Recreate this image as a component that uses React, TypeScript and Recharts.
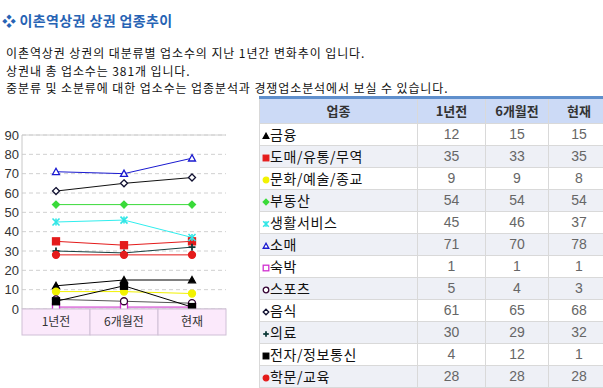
import React from "react";
import { LineChart, Line, XAxis, YAxis, CartesianGrid, ReferenceLine } from "recharts";

const periods = ["1년전", "6개월전", "현재"];
const yTicks = [0, 10, 20, 30, 40, 50, 60, 70, 80, 90];

const finance = [12, 15, 15];
const wholesale = [35, 33, 35];
const culture = [9, 9, 8];
const realEstate = [54, 54, 54];
const lifeService = [45, 46, 37];
const retail = [71, 70, 78];
const lodging = [1, 1, 1];
const sports = [5, 4, 3];
const food = [61, 65, 68];
const medical = [30, 29, 32];
const electronics = [4, 12, 1];
const education = [28, 28, 28];

type Shape = "triangle" | "square" | "circle" | "diamond" | "star" | "plus";

const series = [
  { key: "금융", values: finance, line: "#000000", mark: "#000000", shape: "triangle", hollow: false },
  { key: "도매/유통/무역", values: wholesale, line: "#e41b1b", mark: "#e41b1b", shape: "square", hollow: false },
  { key: "문화/예술/종교", values: culture, line: "#f2f200", mark: "#f2f200", shape: "circle", hollow: false },
  { key: "부동산", values: realEstate, line: "#3ada3a", mark: "#3ada3a", shape: "diamond", hollow: false },
  { key: "생활서비스", values: lifeService, line: "#30eeee", mark: "#30e6e6", shape: "star", hollow: false },
  { key: "소매", values: retail, line: "#1a1ad0", mark: "#1a1ad0", shape: "triangle", hollow: true },
  { key: "숙박", values: lodging, line: "#c828c8", mark: "#d030d0", shape: "square", hollow: true },
  { key: "스포츠", values: sports, line: "#555555", mark: "#330033", shape: "circle", hollow: true },
  { key: "음식", values: food, line: "#111111", mark: "#101030", shape: "diamond", hollow: true },
  { key: "의료", values: medical, line: "#1a4040", mark: "#0e3a3a", shape: "plus", hollow: false },
  { key: "전자/정보통신", values: electronics, line: "#000000", mark: "#000000", shape: "square", hollow: false },
  { key: "학문/교육", values: education, line: "#e41b1b", mark: "#e41b1b", shape: "circle", hollow: false },
] as { key: string; values: number[]; line: string; mark: string; shape: Shape; hollow: boolean }[];

const chartData = periods.map((p, i) => {
  const row: any = { period: p };
  series.forEach((s) => (row[s.key] = s.values[i]));
  return row;
});

function Marker({ cx, cy, shape, color, hollow, s = 3.5 }: any) {
  const fill = hollow ? "#ffffff" : color;
  const sw = 1.3;
  switch (shape) {
    case "triangle":
      return (
        <polygon
          points={`${cx},${cy - s} ${cx - s},${cy + s * 0.8} ${cx + s},${cy + s * 0.8}`}
          fill={fill}
          stroke={color}
          strokeWidth={sw}
        />
      );
    case "square":
      return <rect x={cx - s} y={cy - s} width={s * 2} height={s * 2} fill={fill} stroke={color} strokeWidth={sw} />;
    case "circle":
      return <circle cx={cx} cy={cy} r={s} fill={fill} stroke={color} strokeWidth={sw} />;
    case "diamond":
      return (
        <polygon
          points={`${cx},${cy - s} ${cx + s},${cy} ${cx},${cy + s} ${cx - s},${cy}`}
          fill={fill}
          stroke={color}
          strokeWidth={sw}
        />
      );
    case "star":
      return (
        <g stroke={color} strokeWidth={1.6}>
          <line x1={cx - s} y1={cy - s} x2={cx + s} y2={cy + s} />
          <line x1={cx - s} y1={cy + s} x2={cx + s} y2={cy - s} />
          <line x1={cx} y1={cy - s} x2={cx} y2={cy + s} />
        </g>
      );
    default:
      return (
        <g stroke={color} strokeWidth={1.8}>
          <line x1={cx - s} y1={cy} x2={cx + s} y2={cy} />
          <line x1={cx} y1={cy - s} x2={cx} y2={cy + s} />
        </g>
      );
  }
}

function PeriodTick({ x, y, payload }: any) {
  return (
    <g>
      <rect x={x - 34} y={y} width={68} height={26} fill="#fbe9fb" stroke="#cfbfd6" />
      <text
        x={x}
        y={y + 17}
        textAnchor="middle"
        fontSize={12}
        fill="#333"
        fontFamily="'Noto Sans CJK KR', sans-serif"
      >
        {payload.value}
      </text>
    </g>
  );
}

const cellBorder = "1px solid #d9d9d9";

export default function App() {
  return (
    <div
      style={{
        position: "absolute",
        left: 0,
        top: 0,
        width: 603,
        height: 388,
        overflow: "hidden",
        background: "#fff",
        fontFamily: "'Noto Sans CJK KR', sans-serif",
        color: "#222",
      }}
    >
      <div
        style={{
          position: "absolute",
          left: 2,
          top: 10,
          fontSize: 14,
          fontWeight: 700,
          color: "#2763b4",
          letterSpacing: 0.4,
          whiteSpace: "nowrap",
        }}
      >
        <span style={{ fontSize: 14, marginRight: 3 }}>❖</span>이촌역상권 상권 업종추이
      </div>
      <div
        style={{
          position: "absolute",
          left: 6,
          top: 44,
          fontSize: 12,
          lineHeight: "17.5px",
          color: "#111",
          letterSpacing: 0.9,
          whiteSpace: "nowrap",
        }}
      >
        <div>이촌역상권 상권의 대분류별 업소수의 지난 1년간 변화추이 입니다.</div>
        <div>상권내 총 업소수는 381개 입니다.</div>
        <div>중분류 및 소분류에 대한 업소수는 업종분석과 경쟁업소분석에서 보실 수 있습니다.</div>
      </div>

      <div style={{ position: "absolute", left: 0, top: 120 }}>
        <LineChart width={240} height={220} data={chartData} margin={{ top: 15, right: 14, bottom: 5, left: 0 }}>
          <CartesianGrid vertical={false} stroke="#d0d0d0" strokeDasharray="4 3" />
          <XAxis
            dataKey="period"
            padding={{ left: 34, right: 34 }}
            height={26}
            tickLine={false}
            tickSize={0}
            tickMargin={0}
            axisLine={{ stroke: "#c8c0cc" }}
            tick={<PeriodTick />}
            interval={0}
          />
          <YAxis
            domain={[0, 90]}
            ticks={yTicks}
            width={22}
            tickLine={false}
            tickSize={0}
            tickMargin={3}
            axisLine={{ stroke: "#c8c8c8" }}
            tick={{ fontSize: 13, fill: "#333", fontFamily: "'Liberation Sans', Arial, sans-serif" }}
            interval={0}
          />
          <YAxis yAxisId="r" orientation="right" domain={[0, 90]} width={0} tick={false} tickLine={false} axisLine={{ stroke: "#c8c8c8" }} />
          <ReferenceLine y={90} stroke="#d0d0d0" />
          {series.map((s) => (
            <Line
              key={s.key}
              dataKey={s.key}
              stroke={s.line}
              strokeWidth={1}
              isAnimationActive={false}
              dot={(p: any) => (
                <Marker key={`${s.key}-${p.index}`} cx={p.cx} cy={p.cy} shape={s.shape} color={s.mark} hollow={s.hollow} />
              )}
              activeDot={false}
            />
          ))}
        </LineChart>
      </div>

      <div style={{ position: "absolute", left: 259, top: 96, width: 350, borderTop: "3px solid #5f8fcc" }}>
        <table style={{ borderCollapse: "collapse", width: 350, tableLayout: "fixed" }}>
          <colgroup>
            <col style={{ width: 158 }} />
            <col style={{ width: 68 }} />
            <col style={{ width: 63 }} />
            <col style={{ width: 61 }} />
          </colgroup>
          <thead>
            <tr style={{ height: 24, background: "#ccdaf6" }}>
              {["업종", ...periods].map((h) => (
                <th
                  key={h}
                  style={{ border: cellBorder, borderTop: "none", fontWeight: 700, fontSize: 13, color: "#333", padding: 0 }}
                >
                  {h}
                </th>
              ))}
            </tr>
          </thead>
          <tbody>
            {series.map((s, i) => (
              <tr key={s.key} style={{ height: 22, background: i % 2 === 1 ? "#eef0f6" : "#fff" }}>
                <td
                  style={{
                    border: cellBorder,
                    padding: "0 0 0 2px",
                    color: "#111",
                    whiteSpace: "nowrap",
                    fontSize: 14,
                    letterSpacing: 0.6,
                  }}
                >
                  <svg width={8} height={8} style={{ marginRight: 0 }}>
                    <Marker cx={4} cy={4} shape={s.shape} color={s.mark} hollow={s.hollow} s={2.8} />
                  </svg>
                  {s.key}
                </td>
                {s.values.map((v, j) => (
                  <td
                    key={j}
                    style={{
                      border: cellBorder,
                      textAlign: "center",
                      color: "#666",
                      padding: 0,
                      fontSize: 14,
                      fontFamily: "'Liberation Sans Narrow', 'Liberation Sans', sans-serif",
                    }}
                  >
                    {v}
                  </td>
                ))}
              </tr>
            ))}
          </tbody>
        </table>
      </div>
    </div>
  );
}
